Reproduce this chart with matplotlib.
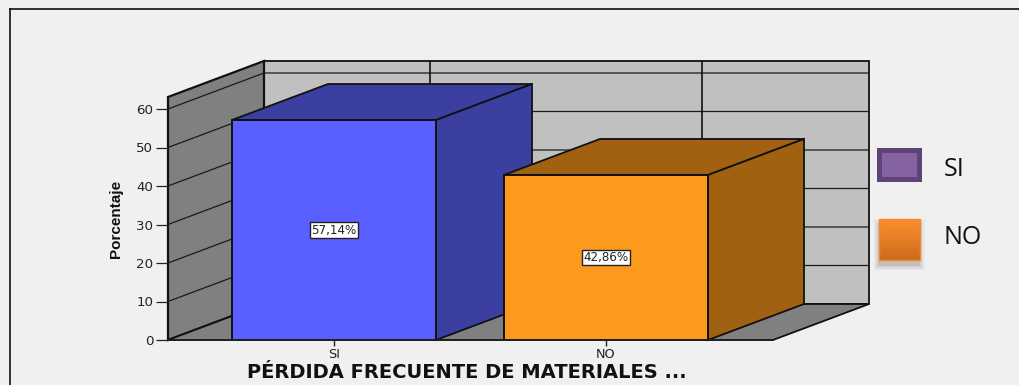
import matplotlib
matplotlib.use("Agg")
import matplotlib.pyplot as plt
from matplotlib.patches import Polygon, Rectangle
from matplotlib.lines import Line2D
import numpy as np

categories = ["SI", "NO"]
values = [57.14, 42.86]
value_labels = ["57,14%", "42,86%"]
y_ticks = [0, 10, 20, 30, 40, 50, 60]
y_label = "Porcentaje"
x_label = "PÉRDIDA FRECUENTE DE MATERIALES ..."
legend_labels = ["SI", "NO"]

W, H = 1019, 385
BG = "#f0f0f0"
fig = plt.figure(figsize=(W / 100, H / 100), dpi=100, facecolor=BG)


def fx(px):
    return px / W


def fy(py):
    return 1 - py / H


# frame: top and left only
for xs, ys in [((9, 1019), (8.5, 8.5)), ((9.5, 9.5), (8, 385))]:
    fig.add_artist(Line2D([fx(v) for v in xs], [fy(v) for v in ys], color="#111111", lw=1.2,
                          solid_capstyle="butt"))

# axes: front floor edge to wall top
x0_px, x1_px, y0_px, ytop_px = 168, 773, 340, 97
ax = fig.add_axes([fx(x0_px), fy(y0_px), (x1_px - x0_px) / W, (y0_px - ytop_px) / H])
ppu_x, ppu_y = 272.0, 3.85
ax.set_xlim((x0_px - 334) / ppu_x, (x1_px - 334) / ppu_x)
ax.set_ylim(0, (y0_px - ytop_px) / ppu_y)
ax.patch.set_alpha(0)
for s in ax.spines.values():
    s.set_visible(False)

ddx, ddy = 96 / ppu_x, 36 / ppu_y
xl, xr = ax.get_xlim()
ytop = ax.get_ylim()[1]
edge = "#111111"


def poly(pts, fc, z=1, lw=1.3, ec=edge):
    ax.add_patch(Polygon(pts, closed=True, fc=fc, ec=ec, lw=lw, zorder=z, clip_on=False, joinstyle="miter"))


# walls and floor
poly([(xl + ddx, ddy), (xr + ddx, ddy), (xr + ddx, ytop + ddy), (xl + ddx, ytop + ddy)], "#c0c0c0", 1)
poly([(xl, 0), (xl + ddx, ddy), (xl + ddx, ytop + ddy), (xl, ytop)], "#808080", 1, lw=1.6)
poly([(xl, 0), (xr, 0), (xr + ddx, ddy), (xl + ddx, ddy)], "#808080", 1)

# gridlines
for t in y_ticks[1:]:
    ax.plot([xl, xl + ddx, xr + ddx], [t, t + ddy, t + ddy], color="#1a1a1a", lw=0.9, zorder=2, clip_on=False)
for i in range(len(categories)):
    ax.plot([i + ddx, i + ddx], [ddy, ytop + ddy], color="#111111", lw=1.2, zorder=2, clip_on=False)

# bars
bar_w = 204 / ppu_x
fronts = ["#5a60ff", "#fd9a1e"]
sides = ["#3b3fa0", "#a06210"]
bars = ax.bar(range(len(categories)), values, width=bar_w, color=fronts, edgecolor=edge, linewidth=1.4, zorder=5)
for i, (b, v) in enumerate(zip(bars, values)):
    l, r = b.get_x(), b.get_x() + b.get_width()
    poly([(l, v), (r, v), (r + ddx, v + ddy), (l + ddx, v + ddy)], sides[i], 4)
    poly([(r, 0), (r + ddx, ddy), (r + ddx, v + ddy), (r, v)], sides[i], 4)
    ax.text(i, v / 2, value_labels[i], ha="center", va="center", fontsize=8.6, family="DejaVu Sans",
            color="#222222", zorder=7,
            bbox=dict(boxstyle="square,pad=0.1", fc="white", ec="#222222", lw=1.0))

# axis furniture
ax.set_xticks(range(len(categories)), categories, fontsize=9.2, family="DejaVu Sans", color="#222222")
ax.set_yticks(y_ticks)
ax.set_yticklabels([str(t) for t in y_ticks], fontsize=9.6, family="DejaVu Sans", color="#222222")
ax.tick_params(axis="y", length=8.6, width=0.9, pad=2, color="#222222")
ax.tick_params(axis="x", length=4, width=1.0, pad=1.5, color="#222222")
ax.plot([xl, xr], [0, 0], color="#222222", lw=1.2, zorder=6, clip_on=False)

fig.text(fx(116), fy(219), y_label, rotation=90, ha="center", va="center", fontsize=11, fontweight="bold",
         family="Liberation Sans", color="#111111")
fig.text(fx(467), fy(372), x_label, ha="center", va="center", fontsize=14, fontweight="bold",
         family="DejaVu Sans", color="#111111")

# legend
lg = fig.add_axes([0, 0, 1, 1], facecolor="none")
lg.axis("off")
lg.add_patch(Rectangle((877, 148), 45, 34, fc="#5e4378", ec="none"))
lg.add_patch(Rectangle((882, 153), 35, 24, fc="#8463a0", ec="none"))
for pad, a in [(5, 0.05), (3.5, 0.07), (2, 0.09), (0.5, 0.12)]:
    lg.add_patch(Rectangle((879 - pad, 224 - pad), 41 + 2 * pad, 41 + 2 * pad, fc="#555555", ec="none", alpha=a, zorder=2))
grad = np.linspace(0, 1, 64).reshape(-1, 1)
c0, c1 = np.array([0xfe, 0x8f, 0x2c]) / 255, np.array([0xcc, 0x6c, 0x1e]) / 255
img = c0 + (c1 - c0) * grad[..., None]
lg.imshow(img, extent=(879, 920, 260, 219), aspect="auto", zorder=3)
lg.set_xlim(0, W)
lg.set_ylim(H, 0)
lg.add_patch(Rectangle((879, 219), 41, 41, fc="none", ec="#f58a2c", lw=1.0, zorder=4))
lg.text(944, 170, legend_labels[0], fontsize=18, va="center", ha="left", family="Open Sans", color="#111111")
lg.text(944, 237, legend_labels[1], fontsize=18, va="center", ha="left", family="Open Sans", color="#111111")

fig.savefig("out.png", dpi=100, facecolor=BG)
